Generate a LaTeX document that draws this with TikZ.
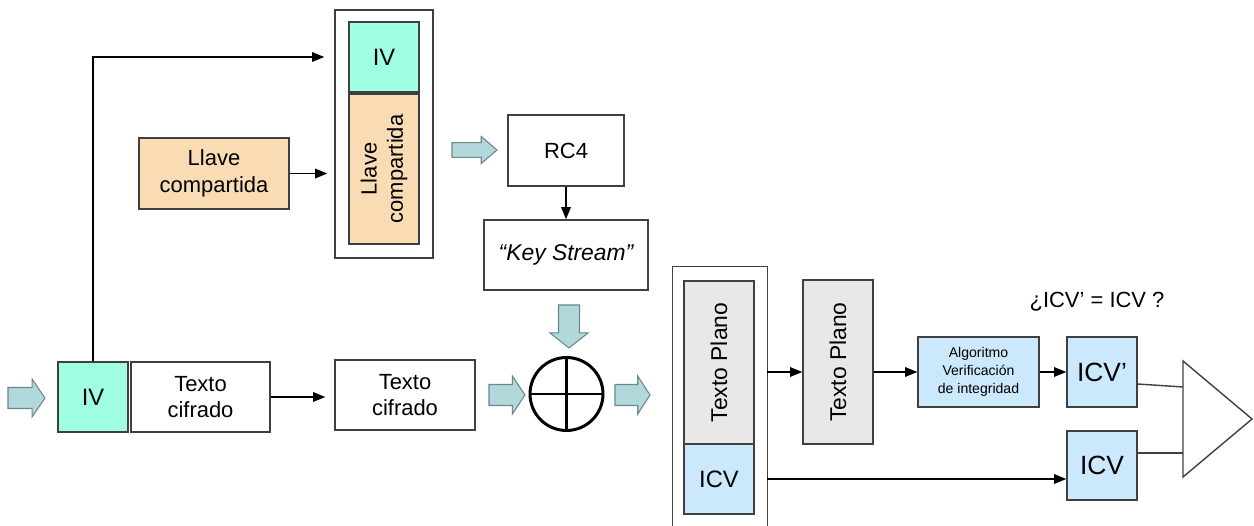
\documentclass[tikz,border=0pt]{standalone}
\usepackage{fontspec}
\setmainfont{Liberation Sans}
\usetikzlibrary{arrows.meta,calc}
\definecolor{ivcol}{RGB}{160,255,226}
\definecolor{keycol}{RGB}{250,220,180}
\definecolor{plaincol}{RGB}{232,232,232}
\definecolor{icvcol}{RGB}{204,232,252}
\definecolor{arrfill}{RGB}{178,216,220}
\definecolor{arrline}{RGB}{105,135,140}
\definecolor{linecol}{RGB}{64,64,64}
\tikzset{
    blk/.style={draw=linecol,line width=0.8pt,align=center,inner sep=0pt,font=\fontsize{12.5}{15}\selectfont},
    conn/.style={-{Triangle[length=7pt,width=5.5pt]},line width=0.8pt},
    fatarrow/.pic={\draw[fill=arrfill,draw=arrline,line width=0.6pt]
        (0,-10.5)--(26,-10.5)--(26,-19)--(40,0)--(26,19)--(26,10.5)--(0,10.5)--cycle;}
}
\begin{document}
\begin{tikzpicture}[x=0.02cm,y=-0.02cm]
    \useasboundingbox (0,0) rectangle (1254,526);
    \foreach \px/\py/\rot/\len in{8/398/0/37,489/395/0/36,615/395/0/35,569/305/-90/43}{
            \pic[rotate=\rot,xscale=\len/40] at (\px,\py) {fatarrow};
        }
    \pic[xscale=45/40,yscale=0.71] at (452,150) {fatarrow};
    \node[blk,fill=ivcol,minimum width=1.4cm,minimum height=1.4cm,font=\fontsize{13.5}{15}\selectfont] (ivin) at (93,397) {IV};
    \node[blk,minimum width=2.78cm,minimum height=1.4cm] (cif) at (200.5,397) {Texto\\cifrado};
    \node[blk,minimum width=2.8cm,minimum height=1.4cm] (cif2) at (405,395) {Texto\\cifrado};
    \node[blk,fill=keycol,minimum width=3cm,minimum height=1.42cm] (llave) at (214,173.5) {Llave\\compartida};
    \node[blk,minimum width=1.96cm,minimum height=4.96cm] (seed) at (384,134) {};
    \node[blk,fill=ivcol,minimum width=1.4cm,minimum height=1.4cm,font=\fontsize{13.5}{15}\selectfont] (ivs) at (384,57) {IV};
    \node[blk,fill=keycol,rotate=90,minimum width=3cm,minimum height=1.4cm] (llaves) at (384,169) {Llave\\compartida};
    \node[blk,minimum width=2.32cm,minimum height=1.42cm] (rc4) at (566,150.5) {RC4};
    \node[blk,minimum width=3.28cm,minimum height=1.4cm,font=\fontsize{13}{15}\selectfont\itshape] (ks) at (566,255) {“Key Stream”};
    \node[circle,draw,line width=1.7pt,minimum size=1.46cm,inner sep=0pt] (xor) at (566.5,394) {};
    \draw[line width=1.7pt] (xor.north)--(xor.south) (xor.west)--(xor.east);
    \node[minimum width=1.88cm,minimum height=5.46cm,inner sep=0pt] (pkt) at (720,403.5) {};
    \draw[draw=linecol,line width=0.8pt] (pkt.south west) |- (pkt.north east) -- (pkt.south east);
    \node[blk,fill=plaincol,rotate=90,minimum width=3.26cm,minimum height=1.4cm,font=\fontsize{13}{15}\selectfont] (tp1) at (719,362.5) {Texto Plano};
    \node[blk,fill=icvcol,minimum width=1.4cm,minimum height=1.4cm,font=\fontsize{13.5}{15}\selectfont] (icv1) at (719,479) {ICV};
    \node[blk,fill=plaincol,rotate=90,minimum width=3.28cm,minimum height=1.4cm,font=\fontsize{13}{15}\selectfont] (tp2) at (838,362) {Texto Plano};
    \node[blk,fill=icvcol,minimum width=2.42cm,minimum height=1.4cm,font=\fontsize{8}{10.4}\selectfont] (alg) at (978.5,372) {Algoritmo\\Verificación\\de integridad};
    \node[blk,fill=icvcol,minimum width=1.4cm,minimum height=1.4cm,font=\fontsize{15}{17}\selectfont] (icvp) at (1102,372) {ICV’};
    \node[blk,fill=icvcol,minimum width=1.4cm,minimum height=1.38cm,font=\fontsize{15}{17}\selectfont] (icv2) at (1102,465.5) {ICV};
    \node[font=\fontsize{12.5}{15}\selectfont] (q) at (1097,302) {¿ICV’ = ICV ?};
    \path (1183,361) coordinate(cmpT) (1252,419) coordinate(cmpO) (1183,477) coordinate(cmpB)
        (1183,387) coordinate(cmpA) (1183,453) coordinate(cmpC);
    \draw[draw=linecol,line width=0.8pt] (cmpT)--(cmpO)--(cmpB)--cycle;
    \draw[conn,shorten >=0.2cm] (ivin) |- (seed.west |- ivs);
    \draw[conn,shorten >=0.14cm] (llave) -- (seed.west |- llave);
    \draw[conn,shorten >=0.18cm] (cif) -- (cif2.west |- cif);
    \draw[conn] (rc4) -- (ks);
    \draw[conn] (pkt.east |- alg) -- (tp2.north |- alg);
    \draw[conn] (tp2.south |- alg) -- (alg);
    \draw[conn] (alg) -- (icvp);
    \draw[conn] (pkt.east |- icv1) -- (icv2.west |- icv1);
    \draw[draw=linecol,line width=0.8pt] ($(icvp.east)+(0,12)$) -- (cmpA);
    \draw[draw=linecol,line width=0.8pt] ($(icv2.east)+(0,-12.5)$) -- (cmpC);
\end{tikzpicture}
\end{document}
